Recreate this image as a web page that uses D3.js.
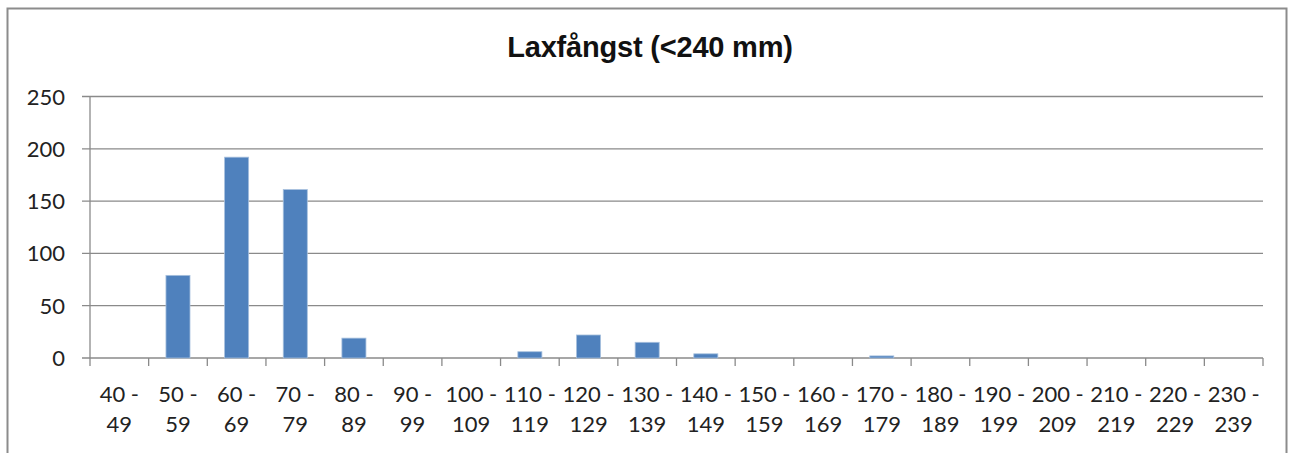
<!DOCTYPE html>
<html>
<head>
<meta charset="utf-8">
<script src="https://cdn.jsdelivr.net/npm/d3@7"></script>
<style>
  body { margin: 0; background: #fff; }
  svg { display: block; font-family: Lato, "Open Sans", sans-serif; }
</style>
</head>
<body>
<main></main>
<script>
var w = 1290;
var h = 453;

// categories (two lines each) and counts
var rangeStart = ["40 -", "50 -", "60 -", "70 -", "80 -", "90 -", "100 -", "110 -", "120 -", "130 -",
                  "140 -", "150 -", "160 -", "170 -", "180 -", "190 -", "200 -", "210 -", "220 -", "230 -"];
var rangeEnd = ["49", "59", "69", "79", "89", "99", "109", "119", "129", "139",
                "149", "159", "169", "179", "189", "199", "209", "219", "229", "239"];
var counts = [0, 79, 192, 161, 19, 0, 0, 6, 22, 15, 4, 0, 0, 2, 0, 0, 0, 0, 0, 0];
var yTicks = [0, 50, 100, 150, 200, 250];
var title = "Laxfångst (<240 mm)";

var plotLeft = 90, plotRight = 1263, plotTop = 96.5, plotBottom = 358;

var svg = d3.select("main").append("svg").attr("width", w).attr("height", h);

// outer chart border
svg.append("rect")
  .attr("x", 7.5).attr("y", 8.5)
  .attr("width", 1279).attr("height", 460)
  .attr("fill", "none")
  .attr("stroke", "#8c8c8c")
  .attr("stroke-width", 2);

var cats = d3.range(counts.length);

var xScale = d3.scaleBand()
  .domain(cats)
  .range([plotLeft, plotRight])
  .paddingInner(0.59)
  .paddingOuter(0.295);

var xEdge = d3.scaleLinear()
  .domain([0, counts.length])
  .range([plotLeft, plotRight]);

var yScale = d3.scaleLinear()
  .domain([0, 250])
  .range([plotBottom, plotTop]);

// gridlines
svg.append("g")
  .selectAll("line")
  .data(yTicks)
  .enter()
  .append("line")
  .attr("x1", plotLeft - 8)
  .attr("x2", plotRight)
  .attr("y1", function (d) { return yScale(d); })
  .attr("y2", function (d) { return yScale(d); })
  .attr("stroke", "#8a8a8a")
  .attr("stroke-width", 1.3);

// y axis line
svg.append("line")
  .attr("x1", plotLeft).attr("x2", plotLeft)
  .attr("y1", plotTop).attr("y2", plotBottom)
  .attr("stroke", "#8a8a8a")
  .attr("stroke-width", 1.3);

// x tick marks at category boundaries
svg.append("g")
  .selectAll("line")
  .data(d3.range(counts.length + 1))
  .enter()
  .append("line")
  .attr("x1", function (d) { return xEdge(d); })
  .attr("x2", function (d) { return xEdge(d); })
  .attr("y1", plotBottom)
  .attr("y2", plotBottom + 8)
  .attr("stroke", "#8a8a8a")
  .attr("stroke-width", 1.3);

// bars
svg.append("g")
  .selectAll("rect")
  .data(counts)
  .enter()
  .append("rect")
  .attr("x", function (d, i) { return xScale(i); })
  .attr("y", function (d) { return yScale(d); })
  .attr("width", xScale.bandwidth())
  .attr("height", function (d) { return plotBottom - yScale(d); })
  .attr("fill", "#4f81bd")
  .attr("stroke", function (d) { return d > 0 ? "#a7c0de" : "none"; })
  .attr("stroke-width", 0.8);

// y labels
svg.append("g")
  .selectAll("text")
  .data(yTicks)
  .enter()
  .append("text")
  .attr("x", 65)
  .attr("y", function (d) { return yScale(d) + 8; })
  .attr("text-anchor", "end")
  .attr("font-size", "22px")
  .attr("fill", "#222")
  .text(function (d) { return d; });

// x labels, two lines
var xl = svg.append("g")
  .selectAll("text")
  .data(cats)
  .enter()
  .append("text")
  .attr("text-anchor", "middle")
  .attr("font-size", "22px")
  .attr("fill", "#222");
xl.append("tspan")
  .attr("x", function (d) { return xScale(d) + xScale.bandwidth() / 2; })
  .attr("y", 402)
  .text(function (d) { return rangeStart[d]; });
xl.append("tspan")
  .attr("x", function (d) { return xScale(d) + xScale.bandwidth() / 2; })
  .attr("y", 432)
  .text(function (d) { return rangeEnd[d]; });

// title
svg.append("text")
  .attr("x", 650)
  .attr("y", 57)
  .attr("text-anchor", "middle")
  .attr("font-family", "'Liberation Sans', Arial, sans-serif")
  .attr("font-size", "29px")
  .attr("font-weight", "bold")
  .attr("letter-spacing", "-0.2px")
  .attr("fill", "#111")
  .text(title);
</script>
</body>
</html>
